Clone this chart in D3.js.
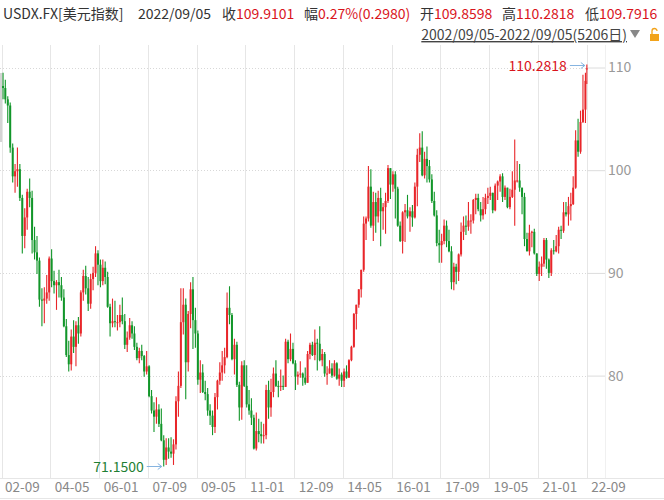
<!DOCTYPE html>
<html>
<head>
<meta charset="utf-8">
<script src="https://cdn.jsdelivr.net/npm/d3@7"></script>
<style>
body { margin: 0; background: #fff; }
svg text { font-family: "Noto Sans CJK SC", "Noto Sans", sans-serif; }
</style>
</head>
<body>
<div id="chart"></div>
<script>
// monthly candles, 2002-09 .. 2022-09 (first/last month partial)
var firstMonth = "2002-09";
var dateStart = "2002-09-05", dateEnd = "2022-09-05";

var opens = [
  108.2,108.0,106.9,106.3,
  102.2,99.4,99.9,100.1,97.3,93.6,95.4,97.9,97.3,93.2,92.0,91.2,
  87.4,87.3,87.5,88.1,91.4,89.2,88.8,89.1,88.8,87.6,84.8,82.0,
  81.1,83.8,82.8,84.9,84.1,88.1,89.7,88.5,87.0,89.4,90.0,91.9,
  90.8,89.2,90.5,89.6,86.7,85.1,85.3,85.2,85.2,85.9,85.3,83.0,
  83.7,84.9,84.1,82.8,81.7,82.4,81.9,80.4,80.9,78.0,76.6,76.0,
  76.7,75.3,73.7,71.8,73.0,72.6,72.4,73.3,77.5,79.0,85.2,86.9,
  81.3,86.0,88.4,85.4,84.1,79.6,80.3,78.4,78.2,76.6,76.1,75.0,
  77.9,79.5,80.3,81.0,81.8,86.6,85.9,81.6,83.0,79.1,76.9,81.0,
  79.0,77.2,76.6,75.9,72.9,74.6,74.3,74.1,74.2,78.6,76.9,78.4,
  80.2,79.0,78.9,79.0,78.9,83.3,81.6,82.6,81.2,79.9,80.1,80.2,
  79.8,79.3,82.1,83.0,82.0,83.2,83.1,81.5,82.1,80.2,80.2,80.7,
  80.0,81.2,79.7,80.1,79.5,80.4,79.8,81.5,82.8,86.0,86.9,88.4,
  90.3,94.8,95.3,98.4,94.6,96.9,95.5,97.3,96.0,96.4,97.0,100.2,
  98.6,99.6,98.2,94.6,93.1,95.9,96.1,95.5,96.0,95.4,98.4,101.5,
  102.2,99.5,101.1,100.4,99.1,97.0,95.6,92.9,92.7,93.1,94.6,93.1,
  92.1,89.1,90.6,90.1,91.8,94.0,94.6,94.5,95.1,95.1,97.1,97.3,
  96.2,95.6,96.2,97.3,97.5,97.8,96.1,98.5,98.9,99.4,97.4,98.3,
  96.4,97.4,98.1,99.0,99.0,98.3,97.4,93.3,92.1,93.9,94.0,91.9,
  89.9,90.6,90.9,93.2,91.3,90.0,92.2,92.1,92.6,94.2,94.1,95.9,
  95.7,96.5,96.7,98.3,102.9,101.8,104.7,105.9,109.8598
];
var highs = [
  109.5,108.8,107.2,106.6,
  102.6,100.6,102.2,100.6,97.6,96.3,98.2,99.2,98.0,94.5,93.6,91.5,
  88.5,88.6,89.8,91.6,92.3,90.2,89.3,90.3,89.6,88.4,85.5,83.4,
  84.5,85.4,85.3,85.7,88.3,90.3,90.7,89.6,89.9,90.6,92.6,92.2,
  91.3,91.3,91.1,90.1,87.0,87.5,87.3,85.9,86.9,87.6,86.0,84.3,
  85.6,85.3,84.8,83.2,82.7,83.0,82.0,82.4,81.0,78.6,77.4,77.9,
  77.2,76.8,74.2,73.9,73.9,74.0,73.8,78.0,80.4,88.5,88.5,87.5,
  86.3,89.1,89.6,86.6,84.4,81.5,81.1,79.5,78.8,77.2,76.6,78.3,
  79.6,81.3,82.4,82.7,88.1,88.7,86.1,83.6,83.3,79.4,81.4,81.5,
  81.0,78.6,77.8,76.2,76.4,75.8,75.5,75.3,79.1,79.5,79.7,80.8,
  81.5,79.5,80.6,80.0,83.6,83.5,84.1,83.2,81.5,80.4,81.4,80.3,
  80.8,82.4,83.2,83.3,84.5,83.6,84.8,82.6,82.3,80.9,81.5,81.2,
  81.5,81.3,80.7,80.3,80.7,81.0,81.6,82.9,86.1,86.9,88.4,90.3,
  95.5,95.5,100.4,100.1,97.9,97.8,98.0,98.3,96.8,97.8,100.5,100.2,
  99.9,99.9,98.4,95.0,96.0,96.7,97.6,96.4,96.6,98.8,102.1,103.6,
  103.8,101.8,102.3,101.0,99.6,97.9,96.1,94.2,93.8,95.2,95.1,94.2,
  92.6,91.0,90.9,91.9,94.9,95.5,95.6,96.9,95.7,97.2,97.7,97.7,
  96.9,97.4,97.7,98.3,98.4,97.8,98.7,99.0,99.6,99.7,98.5,98.3,
  98.2,99.9,103.0,100.9,100.6,98.3,97.8,93.9,94.7,94.1,94.3,91.9,
  91.1,91.6,93.4,93.4,91.4,92.4,93.2,93.7,94.5,94.6,96.9,96.9,
  97.4,97.8,99.4,103.9,105.0,105.8,109.3,109.5,110.2818
];
var lows = [
  106.9,106.5,104.6,101.7,
  98.8,97.8,98.4,97.0,91.9,92.4,94.2,96.4,91.9,91.3,89.9,86.7,
  84.8,85.1,87.0,87.3,88.6,88.0,86.4,87.6,87.3,84.7,81.8,80.4,
  80.5,82.2,80.9,83.1,83.8,87.3,87.9,86.3,86.5,88.3,89.6,88.8,
  88.6,88.8,88.9,86.6,83.8,84.7,84.7,84.4,84.7,85.0,82.6,82.3,
  83.5,83.6,82.5,81.5,81.2,81.5,79.9,80.1,77.9,76.3,74.5,75.3,
  75.0,73.6,71.15,71.3,71.9,72.0,71.3,72.8,76.0,78.8,84.0,77.7,
  80.4,84.6,82.6,82.7,79.1,78.3,78.3,77.6,76.1,75.2,74.2,74.4,
  76.7,79.1,79.5,80.2,81.7,85.0,81.5,80.1,78.9,75.6,75.7,78.9,
  76.9,76.2,75.2,72.8,72.7,73.5,73.4,73.4,73.8,75.8,76.0,77.9,
  78.9,77.9,78.5,78.6,78.9,81.2,81.4,81.1,78.6,79.1,79.8,79.0,
  79.1,79.3,81.6,81.9,81.5,80.5,81.4,80.9,79.9,79.1,80.2,79.8,
  79.9,79.6,79.0,78.9,78.9,79.7,79.8,81.4,82.7,84.5,86.6,87.6,
  90.1,93.2,95.0,94.4,93.1,93.9,94.9,92.6,94.2,93.8,96.8,97.2,
  97.9,95.3,94.5,93.0,91.9,93.0,95.3,94.0,94.5,95.3,96.5,100.8,
  99.4,99.2,98.8,98.8,96.8,95.5,92.6,91.0,91.0,92.8,92.5,92.0,
  88.4,88.3,88.9,89.2,91.6,93.2,93.7,94.1,93.8,94.8,95.7,96.0,
  95.0,95.2,95.7,96.7,97.1,95.8,96.0,97.1,97.9,96.9,97.1,96.3,
  96.2,97.3,94.6,98.8,97.9,95.7,92.6,92.1,91.7,92.5,91.8,89.7,
  89.2,89.7,90.6,90.4,89.5,89.7,91.8,92.0,91.9,93.3,93.9,95.5,
  94.6,95.1,96.6,98.2,101.3,101.6,104.6,104.6,108.4
];
var closes = [
  108.0,106.9,106.3,102.2,
  99.4,99.9,100.1,97.3,93.6,95.4,97.9,97.3,93.2,92.0,91.2,87.4,
  87.3,87.5,88.1,91.4,89.2,88.8,89.1,88.8,87.6,84.8,82.0,81.1,
  83.8,82.8,84.9,84.1,88.1,89.7,88.5,87.0,89.4,90.0,91.9,90.8,
  89.2,90.5,89.6,86.7,85.1,85.3,85.2,85.2,85.9,85.3,83.0,83.7,
  84.9,84.1,82.8,81.7,82.4,81.9,80.4,80.9,78.0,76.6,76.0,76.7,
  75.3,73.7,71.8,73.0,72.6,72.4,73.3,77.5,79.0,85.2,86.9,81.3,
  86.0,88.4,85.4,84.1,79.6,80.3,78.4,78.2,76.6,76.1,75.0,77.9,
  79.5,80.3,81.0,81.8,86.6,85.9,81.6,83.0,79.1,76.9,81.0,79.0,
  77.2,76.6,75.9,72.9,74.6,74.3,74.1,74.2,78.6,76.9,78.4,80.2,
  79.0,78.9,79.0,78.9,83.3,81.6,82.6,81.2,79.9,80.1,80.2,79.8,
  79.3,82.1,83.0,82.0,83.2,83.1,81.5,82.1,80.2,80.2,80.7,80.0,
  81.2,79.7,80.1,79.5,80.4,79.8,81.5,82.8,86.0,86.9,88.4,90.3,
  94.8,95.3,98.4,94.6,96.9,95.5,97.3,96.0,96.4,97.0,100.2,98.6,
  99.6,98.2,94.6,93.1,95.9,96.1,95.5,96.0,95.4,98.4,101.5,102.2,
  99.5,101.1,100.4,99.1,97.0,95.6,92.9,92.7,93.1,94.6,93.1,92.1,
  89.1,90.6,90.1,91.8,94.0,94.6,94.5,95.1,95.1,97.1,97.3,96.2,
  95.6,96.2,97.3,97.5,97.8,96.1,98.5,98.9,99.4,97.4,98.3,96.4,
  97.4,98.1,99.0,99.0,98.3,97.4,93.3,92.1,93.9,94.0,91.9,89.9,
  90.6,90.9,93.2,91.3,90.0,92.2,92.1,92.6,94.2,94.1,95.9,95.7,
  96.5,96.7,98.3,102.9,101.8,104.7,105.9,108.7,109.9101
];

var xTickLabels = ["02-09","04-05","06-01","07-09","09-05","11-01","12-09",
                   "14-05","16-01","17-09","19-05","21-01","22-09"];
var yTickValues = [80, 90, 100, 110];

// header quote values
var quote = {name: "USDX.FX[美元指数]", date: "2022/09/05", close: "109.9101",
  change: "0.27%(0.2980)", open: "109.8598", high: "110.2818", low: "109.7916"};
var rangeText = "2002/09/05-2022/09/05(5206日)";

var W = 664, H = 500;
var plotLeft = 2, plotRight = 587, plotTop = 45, plotBottom = 478, axisRight = 605;
var upColor = "#e8262a", downColor = "#12962a", gridColor = "#e6e6e6";

var parseDay = d3.timeParse("%Y-%m-%d");
var parseYM = d3.timeParse("%Y-%m");
var parseTick = d3.timeParse("%y-%m");
var d0 = parseDay(dateStart), d1 = parseDay(dateEnd);

var x = d3.scaleTime().domain([d0, d1]).range([plotLeft, plotRight]);
var y = d3.scaleLinear().domain([80, 110]).range([375.6, 67.5]);

// build candle rows, centred on the part of each month that has data
var data = opens.map(function(o, i) {
  var ms = d3.timeMonth.offset(parseYM(firstMonth), i);
  var me = d3.timeMonth.offset(ms, 1);
  var a = ms < d0 ? d0 : ms, b = me > d1 ? d1 : me;
  return {date: new Date((+a + +b) / 2), o: o, h: highs[i], l: lows[i], c: closes[i]};
});

var svg = d3.select("#chart").append("svg")
  .attr("width", W).attr("height", H);

// header
function seg(str, xx, col) {
  svg.append("text").attr("x", xx).attr("y", 19)
    .style("font-size", "14px").style("fill", col).text(str);
}
seg(quote.name, 3, "#333");
seg(quote.date, 138, "#333");
seg("收", 222, "#333"); seg(quote.close, 236, "#d9141c");
seg("幅", 304, "#333"); seg(quote.change, 318, "#d9141c");
seg("开", 420, "#333"); seg(quote.open, 434, "#d9141c");
seg("高", 502, "#333"); seg(quote.high, 516, "#d9141c");
seg("低", 585, "#333"); seg(quote.low, 599, "#d9141c");

svg.append("text").attr("x", 627).attr("y", 40)
  .attr("text-anchor", "end")
  .style("font-size", "14px").style("fill", "#444")
  .style("text-decoration", "underline")
  .text(rangeText);
svg.append("path").attr("d", "M630,30 L640,30 L635,38 Z").style("fill", "#888");
// lock icon
svg.append("rect").attr("x", 650).attr("y", 34).attr("width", 9).attr("height", 7)
  .style("fill", "#f2a31b");
svg.append("path").attr("d", "M652,34 V31 A2.5,2.5 0 0 1 657,31")
  .style("fill", "none").style("stroke", "#f2a31b").style("stroke-width", 1.3);

// vertical grid
var tickDates = xTickLabels.map(function(t) { return parseTick(t); });
svg.append("g").selectAll("line").data(tickDates).enter().append("line")
  .attr("x1", function(d) { return Math.round(Math.max(x(d), plotLeft)) + 0.5; })
  .attr("x2", function(d) { return Math.round(Math.max(x(d), plotLeft)) + 0.5; })
  .attr("y1", plotTop).attr("y2", plotBottom)
  .style("stroke", gridColor).style("stroke-width", 1);
svg.append("line").attr("x1", axisRight + 0.5).attr("x2", axisRight + 0.5)
  .attr("y1", plotTop).attr("y2", plotBottom)
  .style("stroke", "#f0f0f0");

// horizontal grid, dotted
svg.append("g").selectAll("line").data(yTickValues).enter().append("line")
  .attr("x1", 0).attr("x2", plotRight)
  .attr("y1", function(d) { return Math.round(y(d)) + 0.5; })
  .attr("y2", function(d) { return Math.round(y(d)) + 0.5; })
  .style("stroke", "#d8d8d8").style("stroke-dasharray", "1,2");

// right axis
var yAxis = d3.axisRight(y).tickValues(yTickValues).tickSize(axisRight - plotRight)
  .tickPadding(3).tickFormat(d3.format("d"));
var ya = svg.append("g").attr("transform", "translate(" + plotRight + ",0)").call(yAxis);
ya.select(".domain").remove();
ya.selectAll("line").style("stroke", "#dcdcdc");
ya.selectAll("text").style("font-size", "14px").style("fill", "#999")
  .style("font-family", "\"Noto Sans CJK SC\", sans-serif");

// bottom axis
svg.append("line").attr("x1", 0).attr("x2", W).attr("y1", plotBottom + 0.5).attr("y2", plotBottom + 0.5)
  .style("stroke", "#e6e6e6");
svg.append("line").attr("x1", 0).attr("x2", W).attr("y1", 498.5).attr("y2", 498.5)
  .style("stroke", "#e6e6e6");
var xAxis = d3.axisBottom(x).tickValues(tickDates).tickSize(0).tickPadding(0)
  .tickFormat(function(d, i) { return xTickLabels[i]; });
var xa = svg.append("g").attr("transform", "translate(0," + plotBottom + ")").call(xAxis);
xa.select(".domain").remove();
xa.selectAll("text").attr("text-anchor", "start").attr("dx", 4).attr("y", 0).attr("dy", 14)
  .style("font-size", "13.5px").style("fill", "#888")
  .style("font-family", "\"Noto Sans CJK SC\", sans-serif");
xa.selectAll(".tick").filter(function(d, i) { return i === 0; })
  .attr("transform", "translate(" + (plotLeft - 1) + ",0)");

// scrollbar stub at left edge
svg.append("rect").attr("x", 0).attr("y", 73).attr("width", 2).attr("height", 69)
  .style("fill", "#d4d4d4");

// candles
var candles = svg.append("g").selectAll("g").data(data).enter().append("g");
function col(d) { return d.c >= d.o ? upColor : downColor; }
candles.append("line")
  .attr("x1", function(d) { return x(d.date); })
  .attr("x2", function(d) { return x(d.date); })
  .attr("y1", function(d) { return y(d.h); })
  .attr("y2", function(d) { return y(d.l); })
  .style("stroke", col).style("stroke-width", 1.1);
candles.append("rect")
  .attr("x", function(d) { return x(d.date) - 1; })
  .attr("width", 2)
  .attr("y", function(d) { return y(Math.max(d.o, d.c)); })
  .attr("height", function(d) { return Math.max(1, Math.abs(y(d.o) - y(d.c))); })
  .style("fill", col);

// high / low markers
var maxD = data.reduce(function(a, b) { return b.h > a.h ? b : a; });
var minD = data.reduce(function(a, b) { return b.l < a.l ? b : a; });
function marker(d, v, color) {
  var px = x(d.date) - 2, py = Math.round(y(v)) + 0.5;
  svg.append("path")
    .attr("d", "M" + (px - 15) + "," + py + " H" + px + " M" + (px - 4) + "," + (py - 3) +
      " L" + px + "," + py + " L" + (px - 4) + "," + (py + 3))
    .style("fill", "none").style("stroke", "#86b4e0").style("stroke-width", 1);
  svg.append("text").attr("x", px - 18).attr("y", py + 5)
    .attr("text-anchor", "end").style("font-size", "14px").style("fill", color)
    .text(d3.format(".4f")(v));
}
marker(maxD, maxD.h, "#d9141c");
marker(minD, minD.l, "#1f7f34");
</script>
</body>
</html>
